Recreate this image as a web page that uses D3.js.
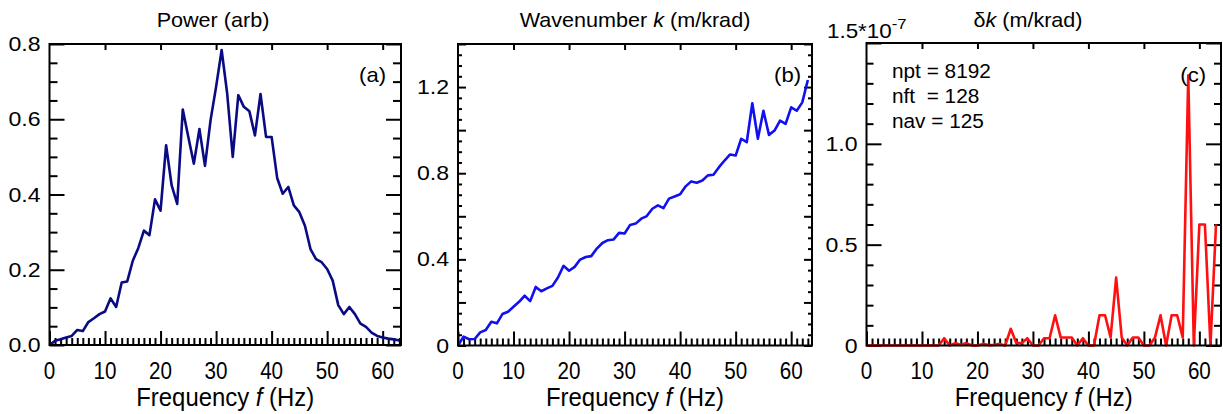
<!DOCTYPE html>
<html><head><meta charset="utf-8">
<script src="https://cdn.jsdelivr.net/npm/d3@7"></script>
<style>
body{margin:0;background:#fff}
svg{display:block}
text{font-family:"Liberation Sans",Arial,Helvetica,sans-serif;fill:#000}
</style>
</head><body>
<svg id="chart" width="1223" height="414"></svg>
<script>
// ---------- data ----------
const freqs = [0,1,2,3,4,5,6,7,8,9,10,11,12,13,14,15,16,17,18,19,20,21,22,23,24,25,26,27,28,29,30,31,
  32,33,34,35,36,37,38,39,40,41,42,43,44,45,46,47,48,49,50,51,52,53,54,55,56,57,58,59,60,61,62,63];

const powerVals = [0.000,0.011,0.015,0.020,0.024,0.040,0.037,0.061,0.071,0.082,0.089,0.124,0.101,0.166,0.169,0.224,
  0.258,0.304,0.292,0.387,0.357,0.531,0.424,0.375,0.626,0.553,0.482,0.574,0.476,0.597,0.686,0.784,
  0.668,0.500,0.664,0.633,0.621,0.557,0.667,0.553,0.553,0.444,0.402,0.420,0.371,0.353,0.317,0.255,
  0.228,0.220,0.202,0.171,0.106,0.082,0.101,0.082,0.057,0.048,0.033,0.024,0.020,0.017,0.015,0.012];

const kVals = [0.000,0.041,0.029,0.030,0.061,0.072,0.110,0.103,0.146,0.157,0.180,0.203,0.231,0.206,0.272,0.252,
  0.265,0.277,0.316,0.370,0.347,0.365,0.399,0.411,0.415,0.450,0.476,0.489,0.492,0.523,0.520,0.560,
  0.566,0.589,0.601,0.635,0.651,0.638,0.682,0.692,0.702,0.739,0.762,0.756,0.766,0.790,0.793,0.828,
  0.859,0.887,0.882,0.960,0.944,1.125,0.960,1.090,0.978,0.998,1.044,1.029,1.106,1.090,1.129,1.233];

// delta k in units of 1e-7 m/krad
const dkVals = [0,0,0,0,0,0,0,0,0,0,0,0,0,0,0.036,0,
  0.012,0.003,0.012,0,0,0.008,0.002,0.003,0.008,0,0.083,0.012,0.012,0.036,0,0,
  0.036,0.036,0.150,0.040,0.040,0.040,0,0.036,0,0,0.150,0.150,0.040,0.337,0.040,0,
  0.040,0.040,0,0,0.040,0.150,0,0.150,0.150,0.040,1.340,0,0.600,0.600,0,0.600];

const xMajorTicks = [0,10,20,30,40,50,60];
const xTickLabels = ["0","10","20","30","40","50","60"];

const powerTicks = [0,0.2,0.4,0.6,0.8];
const powerTickLabels = ["0.0","0.2","0.4","0.6","0.8"];
const kMajorTicks = [0,0.2,0.4,0.6,0.8,1.0,1.2,1.4];
const kLabelTicks = [0,0.4,0.8,1.2];
const kTickLabels = ["0","0.4","0.8","1.2"];
const dkTicks = [0,0.5,1.0,1.5];
const dkLabelTicks = [0,0.5,1.0];
const dkTickLabels = ["0","0.5","1.0"];

const titles = [
  [{t:"Power (arb)"}],
  [{t:"Wavenumber "},{t:"k",i:true},{t:" (m/krad)"}],
  [{t:"\u03B4"},{t:"k",i:true},{t:" (m/krad)"}]
];
const panelTags = ["(a)","(b)","(c)"];
const xTitle = [{t:"Frequency "},{t:"f",i:true},{t:" (Hz)"}];
const infoLines = ["npt = 8192","nft  = 128","nav = 125"];

// ---------- layout ----------
const panels = [
  {left:49.5, right:401, top:44, bottom:345, xMax:63.3, yMax:0.8, vals:powerVals, color:"#0a0a84",
   yMajor:powerTicks, yMinorStep:0.05, majLen:15, minLen:8, labVals:powerTicks, labs:powerTickLabels, titleX:213},
  {left:458, right:812, top:44, bottom:345.5, xMax:63.75, yMax:1.4, vals:kVals, color:"#1010f0",
   yMajor:kMajorTicks, yMinorStep:0.05, majLen:8, minLen:4, labVals:kLabelTicks, labs:kTickLabels, titleX:635},
  {left:866.5, right:1221, top:43, bottom:345.5, xMax:63.9, yMax:1.5, vals:dkVals, color:"#ff1010",
   yMajor:dkTicks, yMinorStep:0.1, majLen:15, minLen:7, labVals:dkLabelTicks, labs:dkTickLabels, titleX:1028}
];

const svg = d3.select("#chart");

function addText(g, x, y, anchor, size, sx, parts){
  const t = g.append("text")
    .attr("transform", `translate(${x},${y}) scale(${sx},1)`)
    .attr("text-anchor", anchor)
    .attr("font-size", size)
    .attr("xml:space","preserve");
  parts.forEach(p => {
    const s = t.append("tspan").text(p.t);
    if (p.i) s.attr("font-style","italic");
    if (p.sup) s.attr("font-size", p.sup).attr("dy", p.dy);
  });
  return t;
}

function ticks(g, axis, vals, size){
  g.call(axis.tickValues(vals).tickSize(size).tickFormat(""));
  g.select(".domain").remove();
  g.selectAll(".tick line").attr("stroke","#000").attr("stroke-width",2);
}

panels.forEach((p, idx) => {
  const x = d3.scaleLinear().domain([0, p.xMax]).range([p.left, p.right]);
  const y = d3.scaleLinear().domain([0, p.yMax]).range([p.bottom, p.top]);
  const g = svg.append("g");

  const xMinor = d3.range(0, Math.floor(p.xMax) + 1).filter(v => v % 10 !== 0);
  const yMinor = d3.range(0, p.yMax + 1e-9, p.yMinorStep)
      .filter(v => !p.yMajor.some(m => Math.abs(m - v) < 1e-6));

  ticks(g.append("g").attr("transform",`translate(0,${p.bottom})`), d3.axisBottom(x), xMajorTicks, -14);
  ticks(g.append("g").attr("transform",`translate(0,${p.bottom})`), d3.axisBottom(x), xMinor, -7);
  ticks(g.append("g").attr("transform",`translate(0,${p.top})`), d3.axisTop(x), xMajorTicks.filter(v=>v>0), -6);
  ticks(g.append("g").attr("transform",`translate(${p.left},0)`), d3.axisLeft(y), p.yMajor, -p.majLen);
  ticks(g.append("g").attr("transform",`translate(${p.left},0)`), d3.axisLeft(y), yMinor, -p.minLen);
  ticks(g.append("g").attr("transform",`translate(${p.right},0)`), d3.axisRight(y), p.yMajor, -p.majLen);
  ticks(g.append("g").attr("transform",`translate(${p.right},0)`), d3.axisRight(y), yMinor, -p.minLen);

  const line = d3.line().x((d,i) => x(freqs[i])).y(d => y(d));
  g.append("path").datum(p.vals)
    .attr("d", line).attr("fill","none")
    .attr("stroke", p.color).attr("stroke-width", 2.6).attr("stroke-linejoin","round");

  g.append("rect").attr("x", p.left).attr("y", p.top)
    .attr("width", p.right - p.left).attr("height", p.bottom - p.top)
    .attr("fill","none").attr("stroke","#000").attr("stroke-width",2);

  p.labVals.forEach((v, k) => {
    addText(g, p.left - 9, y(v) + 7, "end", 21, 1.1, [{t:p.labs[k]}]);
  });
  xMajorTicks.forEach((v, k) => {
    addText(g, x(v), 379, "middle", 24, 0.86, [{t:xTickLabels[k]}]);
  });
  addText(g, (p.left + p.right)/2, 406, "middle", 26, 0.92, xTitle);
  addText(g, p.titleX, 27, "middle", 20, 1.08, titles[idx]);
  addText(g, p.right - (idx===1 ? 11 : 15), 82, "end", 21, 1.05, [{t:panelTags[idx]}]);

  if (idx === 2) {
    addText(g, 827, 38, "start", 20, 1.12, [{t:"1.5*10"},{t:"-7", sup:15, dy:-9}]);
    infoLines.forEach((s, k) => addText(g, 892, 78 + k*25, "start", 20, 1.04, [{t:s}]));
  }
});
</script>
</body></html>
